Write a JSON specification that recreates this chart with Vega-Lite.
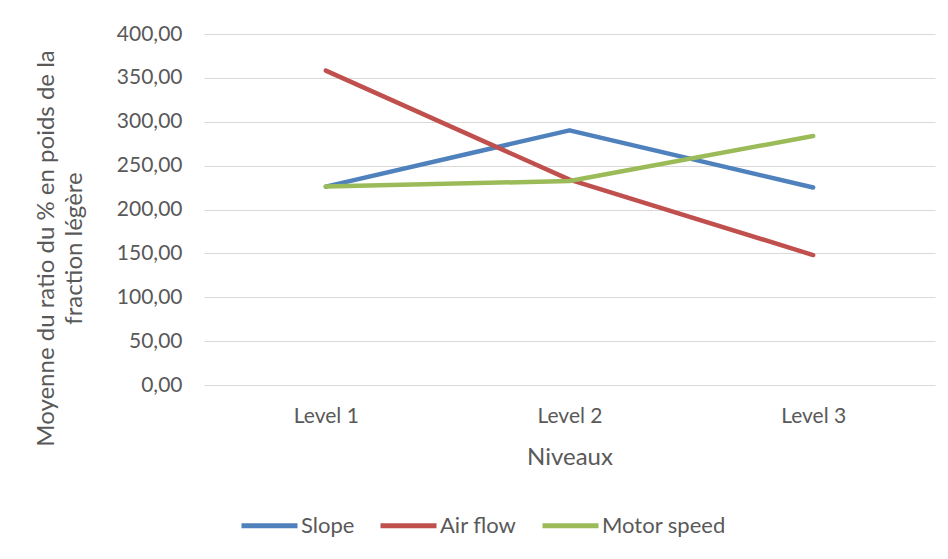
{
  "$schema": "https://vega.github.io/schema/vega-lite/v6.json",
  "width": 731,
  "height": 351,
  "autosize": {"type": "none"},
  "padding": {"left": 204, "top": 34, "right": 13, "bottom": 174},
  "background": "white",
  "data": {
    "values": [
      {"level": "Level 1", "series": "Slope", "value": 226.1},
      {"level": "Level 2", "series": "Slope", "value": 290.2},
      {"level": "Level 3", "series": "Slope", "value": 225.0},
      {"level": "Level 1", "series": "Air flow", "value": 358.3},
      {"level": "Level 2", "series": "Air flow", "value": 234.0},
      {"level": "Level 3", "series": "Air flow", "value": 148.1},
      {"level": "Level 1", "series": "Motor speed", "value": 226.1},
      {"level": "Level 2", "series": "Motor speed", "value": 232.5},
      {"level": "Level 3", "series": "Motor speed", "value": 283.8}
    ]
  },
  "mark": {"type": "line", "strokeWidth": 4.5, "strokeCap": "round", "strokeJoin": "round"},
  "encoding": {
    "x": {
      "field": "level",
      "type": "nominal",
      "scale": {"type": "point", "padding": 0.5},
      "axis": {
        "title": "Niveaux",
        "labelAngle": 0,
        "domain": false,
        "ticks": false,
        "grid": false,
        "labelPadding": 20,
        "titlePadding": 19,
        "labelFontSize": 21,
        "titleFontSize": 24,
        "titleFontWeight": "normal"
      }
    },
    "y": {
      "field": "value",
      "type": "quantitative",
      "scale": {"domain": [0, 400], "nice": false},
      "axis": {
        "title": ["Moyenne du ratio du % en poids de la", "fraction légère"],
        "values": [0, 50, 100, 150, 200, 250, 300, 350, 400],
        "labelExpr": "replace(format(datum.value, '.2f'), '.', ',')",
        "domain": false,
        "ticks": false,
        "grid": true,
        "gridColor": "#D9D9D9",
        "gridWidth": 1.2,
        "labelPadding": 22,
        "labelFontSize": 21,
        "titleFontSize": 24,
        "titleFontWeight": "normal",
        "titleX": -158,
        "titleY": 214,
        "titleAlign": "center",
        "titleBaseline": "middle",
        "titleLineHeight": 28
      }
    },
    "color": {
      "field": "series",
      "type": "nominal",
      "sort": ["Slope", "Air flow", "Motor speed"],
      "scale": {"domain": ["Slope", "Air flow", "Motor speed"], "range": ["#4F81BD", "#C0504D", "#9BBB59"]},
      "legend": {
        "title": null,
        "orient": "none",
        "direction": "horizontal",
        "legendX": 35,
        "legendY": 461,
        "symbolType": "stroke",
        "symbolSize": 3136,
        "symbolStrokeWidth": 5,
        "labelFontSize": 22,
        "labelOffset": 1,
        "columnPadding": 15
      }
    }
  },
  "config": {
    "font": "Lato",
    "view": {"stroke": null},
    "axis": {"labelColor": "#595959", "titleColor": "#595959", "labelFont": "Lato", "titleFont": "Lato"},
    "legend": {"labelColor": "#595959", "labelFont": "Lato"}
  }
}
